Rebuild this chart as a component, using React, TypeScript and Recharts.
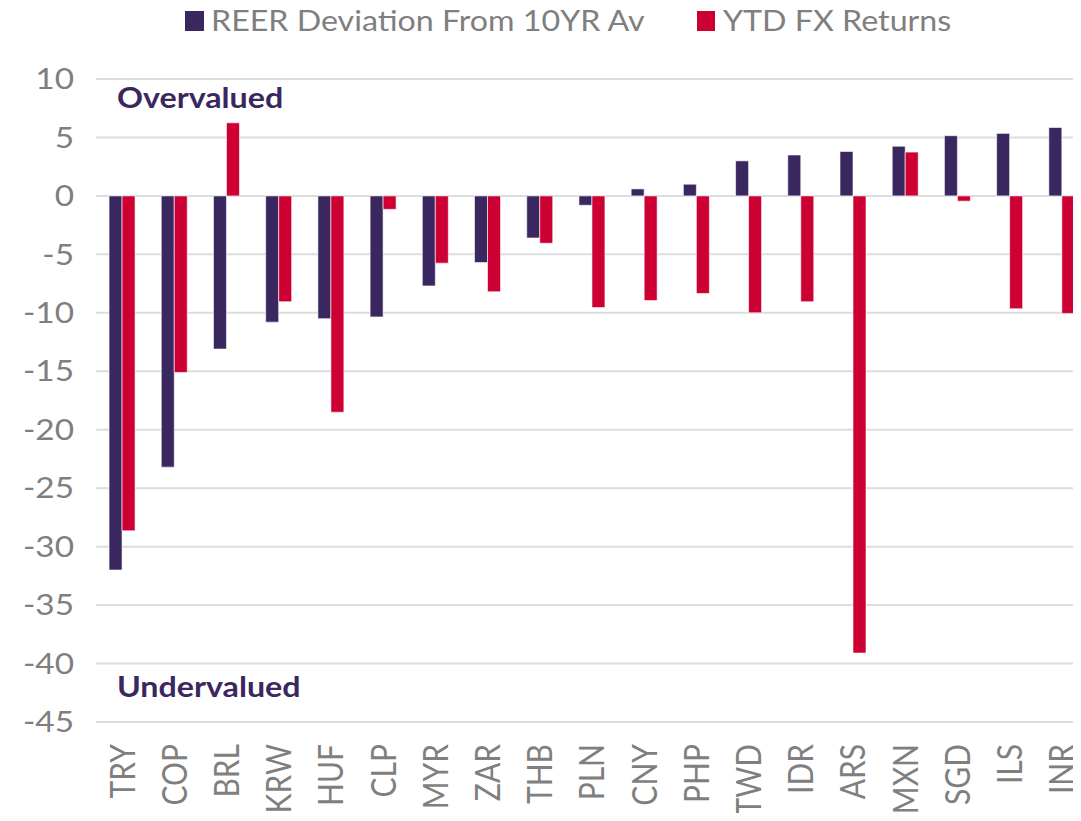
import React from "react";
import { BarChart, Bar, XAxis, YAxis, CartesianGrid } from "recharts";

const categories = ["TRY","COP","BRL","KRW","HUF","CLP","MYR","ZAR","THB","PLN","CNY","PHP","TWD","IDR","ARS","MXN","SGD","ILS","INR"];
const reerDeviation = [-32.0,-23.2,-13.1,-10.8,-10.5,-10.35,-7.7,-5.7,-3.6,-0.8,0.6,1.0,3.0,3.5,3.8,4.25,5.15,5.35,5.85];
const ytdFxReturns = [-28.65,-15.1,6.25,-9.05,-18.5,-1.15,-5.75,-8.2,-4.05,-9.55,-8.95,-8.35,-10.0,-9.05,-39.1,3.75,-0.45,-9.65,-10.05];
const yTicks = [-45,-40,-35,-30,-25,-20,-15,-10,-5,0,5,10];
const seriesNames = ["REER Deviation From 10YR Av", "YTD FX Returns"];
const annotations = ["Overvalued", "Undervalued"];

const PURPLE = "#3b2760";
const RED = "#cc0033";
const GRAY = "#7f7f7f";
const SX = 1.15;

const data = categories.map((c, i) => ({ name: c, reer: reerDeviation[i], ytd: ytdFxReturns[i] }));

const XTick = (props: any) => {
  const { x, y, payload } = props;
  return (
    <g transform={`translate(${x}, ${y + 22}) scale(${SX}, 1) rotate(-90)`}>
      <text x={0} y={0} textAnchor="end" dy="0.36em" fill={GRAY} fontSize={30} fontFamily="Lato">
        {payload.value}
      </text>
    </g>
  );
};

const YTick = (props: any) => {
  const { x, y, payload } = props;
  return (
    <g transform={`translate(${x}, ${y}) scale(${SX}, 1)`}>
      <text x={0} y={0} textAnchor="end" dy="0.35em" fill={GRAY} fontSize={29} fontFamily="Lato">
        {payload.value}
      </text>
    </g>
  );
};

const SText = ({ x, y, children, ...rest }: any) => (
  <g transform={`translate(${x}, ${y}) scale(${SX}, 1)`}>
    <text x={0} y={0} fontFamily="Lato" {...rest}>{children}</text>
  </g>
);

export default function App() {
  return (
    <div
      style={{
        position: "relative",
        width: 1073,
        height: 821,
        marginTop: -8,
        marginBottom: -8,
        overflow: "hidden",
        fontFamily: "Lato",
      }}
    >
      <div style={{ position: "absolute", left: 0, top: 8 }}>
        <BarChart
          width={1080}
          height={812}
          data={data}
          margin={{ top: 71, right: 0, left: 0, bottom: 0 }}
          barCategoryGap="25%"
          barGap={0}
        >
          <CartesianGrid vertical={false} stroke="#dddddd" strokeWidth={2} />
          <XAxis
            dataKey="name"
            height={98}
            axisLine={false}
            tickLine={false}
            tickSize={0}
            tickMargin={0}
            interval={0}
            tick={<XTick />}
          />
          <YAxis
            width={88}
            domain={[-45, 10]}
            ticks={yTicks}
            interval={0}
            axisLine={false}
            tickLine={false}
            tickSize={0}
            tickMargin={22}
            tick={<YTick />}
          />
          <Bar dataKey="reer" name={seriesNames[0]} fill={PURPLE} stroke="#ffffff" strokeWidth={0.6} isAnimationActive={false} />
          <Bar dataKey="ytd" name={seriesNames[1]} fill={RED} stroke="#ffffff" strokeWidth={0.6} isAnimationActive={false} />
        </BarChart>
      </div>
      <svg
        width={1073}
        height={821}
        style={{ position: "absolute", left: 0, top: 0, pointerEvents: "none" }}
      >
        <rect x={177} y={11} width={19} height={20} fill={PURPLE} />
        <SText x={203} y={31} fontSize={28} fill={GRAY}>{seriesNames[0]}</SText>
        <rect x={689} y={11} width={18} height={20} fill={RED} />
        <SText x={715} y={31} fontSize={28} fill={GRAY}>{seriesNames[1]}</SText>
        <SText x={109} y={108} fontSize={28} fontWeight="bold" fill={PURPLE}>{annotations[0]}</SText>
        <SText x={109} y={697} fontSize={28} fontWeight="bold" fill={PURPLE}>{annotations[1]}</SText>
      </svg>
    </div>
  );
}
